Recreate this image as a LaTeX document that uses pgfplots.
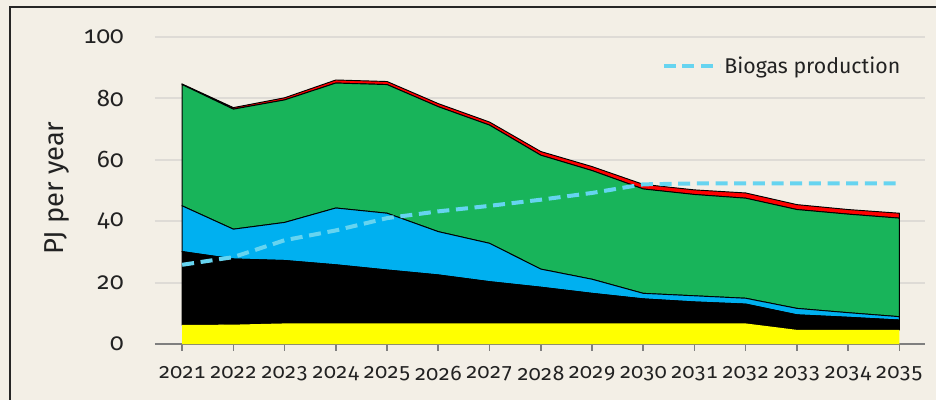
\documentclass[border=0pt]{standalone}
\usepackage{fontspec}
\setmainfont{Fira Sans}[Numbers={OldStyle,Monospaced}]
\usepackage{pgfplots}
\usepackage{pgfplotstable}
\pgfplotsset{compat=1.18}
\definecolor{bg}{HTML}{F3EFE6}
\definecolor{cyel}{HTML}{FFFF00}
\definecolor{cblue}{HTML}{00B0F0}
\definecolor{cgreen}{HTML}{18B45A}
\definecolor{cred}{HTML}{FF0000}
\definecolor{cbio}{HTML}{66D4F0}
\definecolor{cgrid}{HTML}{DEDBD6}
\definecolor{caxis}{HTML}{7F7F7F}
\definecolor{ctext}{HTML}{222222}

\pgfplotstableread{
year yellow black blue green red bio
2021 6.2 23.9 14.9 39.5 0.2 25.8
2022 6.3 21.4 9.7 39.1 0.5 28.3
2023 6.7 20.5 12.4 39.9 0.7 33.8
2024 6.7 19.1 18.5 40.7 1.0 37.0
2025 6.7 17.4 18.5 41.9 1.0 41.0
2026 6.7 15.8 14.1 40.7 1.0 43.2
2027 6.7 13.6 12.5 38.5 1.0 45.0
2028 6.7 11.8 5.9 37.1 1.2 47.0
2029 6.7 9.8 4.6 35.4 1.3 49.2
2030 6.7 8.0 1.8 34.0 1.5 52.0
2031 6.7 7.0 2.0 33.0 1.5 52.3
2032 6.7 6.3 1.9 32.6 1.7 52.3
2033 4.6 4.9 2.1 32.2 1.6 52.3
2034 4.6 4.1 1.5 32.1 1.5 52.3
2035 4.6 3.2 1.1 32.1 1.6 52.3
}\data

\begin{document}
\begin{tikzpicture}
\fill[bg] (-116.25pt,-42pt) rectangle (585.75pt,258pt);
\begin{axis}[
  at={(0,0)}, anchor=south west,
  scale only axis, width=577.5pt, height=230.25pt,
  xmin=2020.47, xmax=2035.5, ymin=0, ymax=100,
  stack plots=y,
  axis x line*=bottom, axis y line*=left,
  x axis line style={color=caxis, line width=1.5pt, -},
  y axis line style={draw=none},
  xtick={2021,...,2035},
  ytick={0,20,40,60,80,100},
  ymajorgrids,
  y grid style={color=cgrid, line width=1.6pt},
  tick align=outside,
  major tick length=5pt,
  x tick style={color=caxis, line width=1.2pt},
  y tick style={draw=none},
  /pgf/number format/assume math mode=true,
  /pgf/number format/1000 sep={},
  xticklabel style={font=\fontsize{15.8}{18}\selectfont, text=ctext, yshift=-8pt},
  yticklabel style={font=\fontsize{18}{20}\selectfont, text=ctext, xshift=-15pt},
  ylabel={PJ per year},
  ylabel style={font=\fontsize{20.5}{24}\selectfont, text=ctext, at={(axis description cs:-0.1273,0.508)}, anchor=center},
  every axis plot/.append style={draw=black, line width=0.7pt},
]
\addplot[fill=cyel, draw=none] table[x=year,y=yellow]{\data} \closedcycle;
\addplot[fill=black] table[x=year,y=black]{\data} \closedcycle;
\addplot[fill=cblue] table[x=year,y=blue]{\data} \closedcycle;
\addplot[fill=cgreen] table[x=year,y=green]{\data} \closedcycle;
\addplot[fill=cred] table[x=year,y=red]{\data} \closedcycle;
\end{axis}
\begin{axis}[
  at={(0,0)}, anchor=south west,
  scale only axis, width=577.5pt, height=230.25pt,
  xmin=2020.47, xmax=2035.5, ymin=0, ymax=100,
  hide axis,
  legend style={at={(0.977,0.906)}, anchor=east, draw=none, fill=none,
    font=\fontsize{16}{18}\selectfont, text=ctext},
  legend cell align=left,
  legend image code/.code={\draw[#1] (-6pt,0pt) -- (36pt,0pt);},
]
\addplot[color=cbio, line width=3pt, dash pattern=on 9pt off 5pt] table[x=year,y=bio]{\data};
\addlegendentry{Biogas production}
\end{axis}
\draw[line width=1.5pt, color=black!85] (-108.75pt,-60pt) -- (-108.75pt,252.75pt) -- (700pt,252.75pt);
\pgfresetboundingbox
\useasboundingbox (-116.25pt,-42pt) rectangle (585.75pt,258pt);
\end{tikzpicture}
\end{document}
